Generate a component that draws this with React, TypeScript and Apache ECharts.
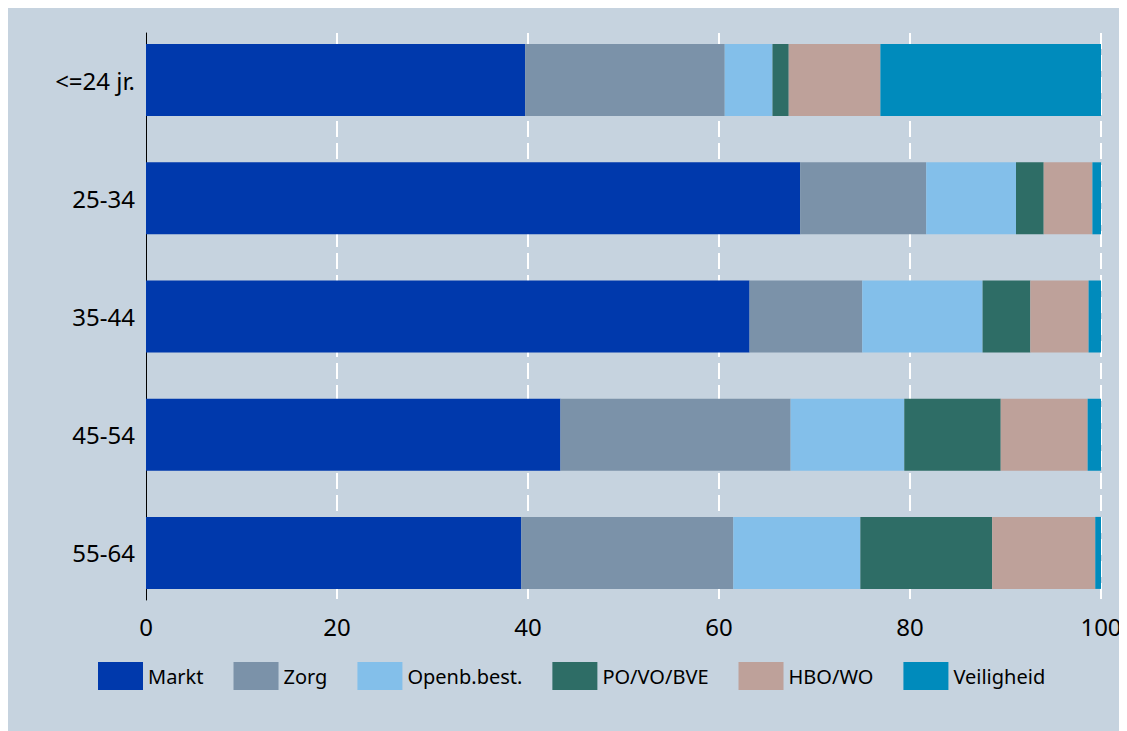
import React, { useEffect, useRef } from "react";
import * as echarts from "echarts";

const categories = ["<=24 jr.", "25-34", "35-44", "45-54", "55-64"];
const seriesNames = ["Markt", "Zorg", "Openb.best.", "PO/VO/BVE", "HBO/WO", "Veiligheid"];
const markt = [39.7, 68.5, 63.2, 43.4, 39.3];
const zorg = [20.9, 13.2, 11.8, 24.1, 22.2];
const openb = [5.0, 9.4, 12.6, 11.9, 13.3];
const povo = [1.7, 2.9, 5.0, 10.1, 13.8];
const hbowo = [9.6, 5.1, 6.1, 9.1, 10.8];
const veiligheid = [23.1, 0.9, 1.3, 1.4, 0.6];
const xTicks = [0, 20, 40, 60, 80, 100];

const seriesValues = [markt, zorg, openb, povo, hbowo, veiligheid];
const colors = ["#0039AC", "#7B92A9", "#83BFEA", "#2E6D66", "#BEA19A", "#008BBC"];
const FONT = "'Noto Sans', 'DejaVu Sans', sans-serif";

export default function App() {
  const ref = useRef<HTMLDivElement>(null);
  useEffect(() => {
    document.documentElement.style.overflow = "hidden";
    document.body.style.overflow = "hidden";
    const chart = echarts.init(ref.current!, null, { renderer: "svg" });
    chart.setOption({
      animation: false,
      backgroundColor: "#C6D3DF",
      textStyle: { fontFamily: FONT },
      grid: [
        { left: 138, right: 26, top: 13, bottom: 119 },
        { left: 138, right: 26, top: 25, bottom: 131 },
      ],
      xAxis: [
        { type: "value", gridIndex: 0, min: 0, max: 100, show: false },
        {
          type: "value",
          gridIndex: 1,
          min: xTicks[0],
          max: xTicks[xTicks.length - 1],
          interval: 20,
          axisLine: { show: false },
          axisTick: { show: false },
          axisLabel: { fontSize: 24, color: "#000", margin: 14, fontFamily: FONT },
          splitLine: {
            show: true,
            lineStyle: {
              color: ["rgba(0,0,0,0)", "#fff", "#fff", "#fff", "#fff", "#fff"],
              width: 2,
              type: [16, 6],
            },
          },
        },
      ],
      yAxis: [
        {
          type: "category",
          gridIndex: 0,
          data: categories,
          inverse: true,
          axisLine: { show: false },
          axisTick: { show: false },
          axisLabel: { fontSize: 24, color: "#000", margin: 11, fontFamily: FONT },
        },
        {
          type: "value",
          gridIndex: 1,
          axisLine: { show: true, lineStyle: { color: "#000", width: 1 } },
          axisTick: { show: false },
          axisLabel: { show: false },
          splitLine: { show: false },
        },
      ],
      legend: {
        left: 90,
        top: 654,
        padding: 0,
        itemWidth: 45,
        itemHeight: 28,
        itemGap: 30,
        icon: "rect",
        data: seriesNames,
        textStyle: { fontSize: 20, color: "#000", fontFamily: FONT },
      },
      series: seriesNames.map((name, i) => ({
        name,
        type: "bar",
        stack: "total",
        xAxisIndex: 0,
        yAxisIndex: 0,
        barWidth: 72,
        data: seriesValues[i],
        itemStyle: { color: colors[i] },
      })),
    });
    return () => chart.dispose();
  }, []);
  return <div ref={ref} style={{ width: 1119, height: 723 }} />;
}
